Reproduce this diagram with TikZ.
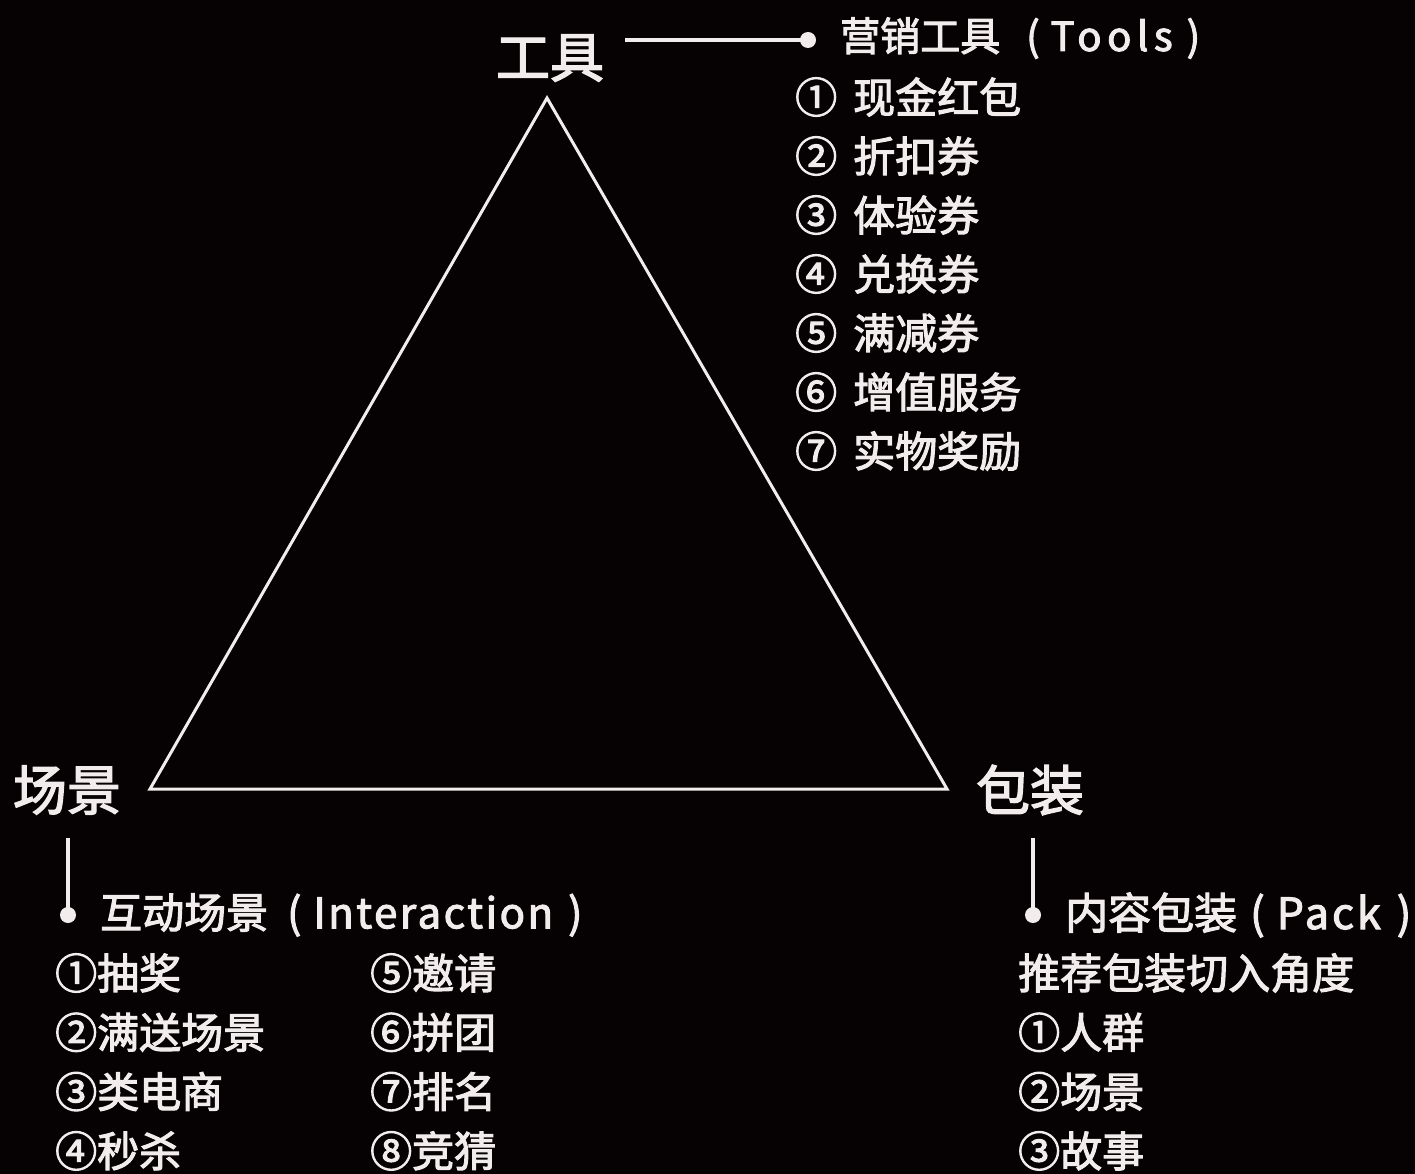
\documentclass[tikz,border=0pt]{standalone}
\usepackage{fontspec}
\setmainfont[FakeBold=2.5]{Noto Sans CJK SC}
\newcommand{\lsp}[2]{{\addfontfeature{LetterSpace=#1}#2}}
\definecolor{bg}{HTML}{060103}
\definecolor{fg}{HTML}{F2ECEC}
\begin{document}
\begin{tikzpicture}[x=1pt,y=-1pt,
  big/.style={font=\fontsize{54}{54}\selectfont, text=fg, inner sep=0pt},
  head/.style={font=\fontsize{40}{40}\selectfont, text=fg, inner sep=0pt, anchor=west},
  item/.style={font=\fontsize{42}{42}\selectfont, text=fg, inner sep=0pt, anchor=west},
  tri/.style={draw=fg, line width=3pt, line join=miter},
  link/.style={draw=fg, line width=4pt},
  dot/.style={fill=fg}]
\fill[bg] (0,0) rectangle (1415,1174);
\useasboundingbox (0,0) rectangle (1415,1174);

% corner labels
\node[big] (gj) at (550,58) {工具};
\node[big] (cj) at (67,790) {场景};
\node[big] (bz) at (1030,790) {包装};

% triangle
\coordinate (A) at (547,98);
\coordinate (B) at (150,789);
\coordinate (C) at (947,789);
\draw[tri] (A) -- (B) -- (C) -- cycle;

% top connector
\coordinate (t0) at (625,40);
\coordinate (t1) at (808,40);
\draw[link] (t0) -- (t1);
\fill[dot] (t1) circle (8);
\node[head] (tools) at (840,38) {营销工具\hspace{26pt}(\hspace{11pt}\lsp{14}{Tools}\hspace{14pt})};
\foreach \n/\num/\txt [count=\i from 0] in {a/①/现金红包, b/②/折扣券, c/③/体验券, d/④/兑换券, e/⑤/满减券, f/⑥/增值服务, g/⑦/实物奖励}{
  \node[item] (tn\n) at (795,97+59*\i) {\num};
  \node[item] (tt\n) at (853,97+59*\i) {\txt};
}

% left connector
\coordinate (l0) at (68,838);
\coordinate (l1) at (68,915);
\draw[link] (l0) -- (l1);
\fill[dot] (l1) circle (8);
\node[head, font=\fontsize{42}{42}\selectfont] (inter) at (100,915) {互动场景\hspace{19pt}(\hspace{12pt}\lsp{6}{Interaction}\hspace{15pt})};
\foreach \n/\txt [count=\i from 0] in {a/①抽奖, b/②满送场景, c/③类电商, d/④秒杀}{
  \node[item] (la\n) at (55,973+59.3*\i) {\txt};
}
\foreach \n/\txt [count=\i from 0] in {a/⑤邀请, b/⑥拼团, c/⑦排名, d/⑧竞猜}{
  \node[item] (lb\n) at (370,973+59.3*\i) {\txt};
}

% right connector
\coordinate (r0) at (1033,838);
\coordinate (r1) at (1033,915);
\draw[link] (r0) -- (r1);
\fill[dot] (r1) circle (8);
\node[head, font=\fontsize{43}{43}\selectfont] (pack) at (1065,915) {内容包装\hspace{13pt}(\hspace{12pt}\lsp{7}{Pack}\hspace{16pt})};
\node[item] (rec) at (1018,973) {推荐包装切入角度};
\foreach \n/\txt [count=\i from 1] in {a/①人群, b/②场景, c/③故事}{
  \node[item] (rc\n) at (1018,973+59.3*\i) {\txt};
}
\end{tikzpicture}
\end{document}
